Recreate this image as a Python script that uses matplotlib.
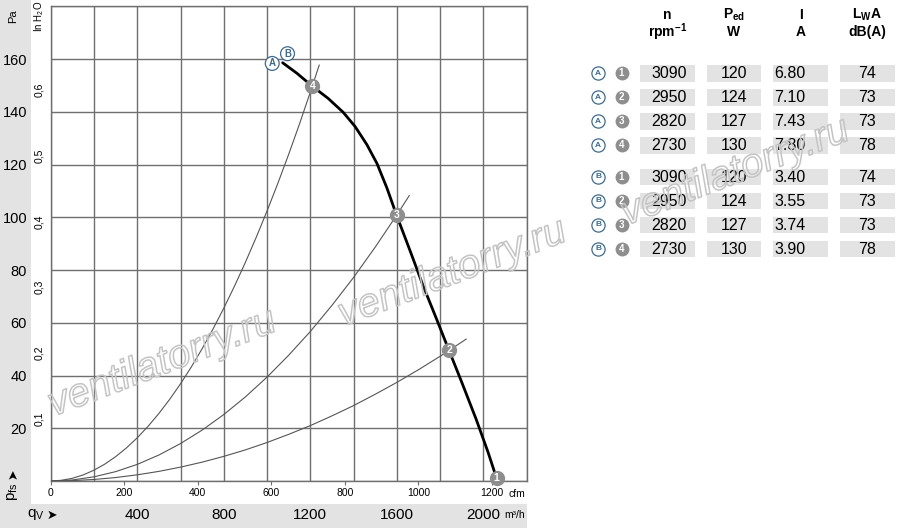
import matplotlib.pyplot as plt
import matplotlib.patheffects as pe
from matplotlib.patches import Rectangle
from matplotlib.transforms import blended_transform_factory

plt.rcParams['font.family'] = ['Liberation Sans Narrow', 'Liberation Sans', 'DejaVu Sans']
plt.rcParams['mathtext.default'] = 'regular'

# fan curve A/B, q in m3/h, p in Pa
fan_q = [1072, 1138, 1209, 1282, 1352, 1407, 1461, 1508, 1554, 1599, 1661, 1721, 1781, 1841, 1901, 1966, 2021, 2061]
fan_p = [158.6, 154.6, 149.7, 145.1, 139.8, 134.4, 127.6, 120.4, 111.1, 100.7, 87.3, 74.1, 61.9, 49.5, 37.2, 23.5, 11.0, 1.0]

# system curves (thin lines through the operating points)
sys4_q = [0, 50, 100, 150, 200, 250, 300, 350, 400, 450, 500, 550, 600, 650, 700, 750, 800,
          850, 900, 950, 1000, 1050, 1100, 1150, 1200, 1241]
sys4_p = [0, 0.26, 1.02, 2.3, 4.1, 6.4, 9.22, 12.54, 16.38, 20.74, 25.6, 30.98, 36.86, 43.26, 50.18,
          57.6, 65.54, 73.98, 82.94, 92.42, 102.4, 112.9, 123.9, 135.4, 147.5, 157.7]
sys3_q = [0, 100, 200, 300, 400, 500, 600, 700, 800, 900, 1000, 1100, 1200, 1300, 1400, 1500, 1600, 1657]
sys3_p = [0, 0.39, 1.58, 3.55, 6.3, 9.85, 14.2, 19.3, 25.2, 31.9, 39.4, 47.7, 56.7, 66.6, 77.2, 88.7, 100.9, 108.2]
sys2_q = [0, 100, 200, 300, 400, 500, 600, 700, 800, 900, 1000, 1100, 1200, 1300, 1400, 1500, 1600, 1700, 1800, 1900, 1920]
sys2_p = [0, 0.15, 0.58, 1.31, 2.34, 3.65, 5.26, 7.15, 9.34, 11.8, 14.6, 17.7, 21.0, 24.7, 28.6, 32.9, 37.4, 42.2, 47.3, 52.7, 53.8]

# operating points 1..4
op_q = [2061, 1841, 1599, 1209]
op_p = [1.0, 49.5, 100.7, 149.7]
op_lbl = ['1', '2', '3', '4']

cfm_ticks = [0, 200, 400, 600, 800, 1000, 1200]
m3h_labels = [400, 800, 1200, 1600, 2000]
pa_labels = [20, 40, 60, 80, 100, 120, 140, 160]
inh2o_ticks = [0.1, 0.2, 0.3, 0.4, 0.5, 0.6]

# table on the right
tbl_motor = ['A', 'A', 'A', 'A', 'B', 'B', 'B', 'B']
tbl_point = ['1', '2', '3', '4', '1', '2', '3', '4']
tbl_n = ['3090', '2950', '2820', '2730', '3090', '2950', '2820', '2730']
tbl_pw = ['120', '124', '127', '130', '120', '124', '127', '130']
tbl_i = ['6.80', '7.10', '7.43', '7.80', '3.40', '3.55', '3.74', '3.90']
tbl_lwa = ['74', '73', '73', '78', '74', '73', '73', '78']

GRID = '#6f6f6f'
MARK = '#8e8e8e'
BLUE = '#3f6b8c'
PANEL = '#e3e3e3'

fig = plt.figure(figsize=(9, 5.32), dpi=100)

# background layer in pixel coords
bg = fig.add_axes([0, 0, 1, 1], zorder=-1)
bg.set_xlim(0, 900)
bg.set_ylim(532, 0)
bg.axis('off')
bg.add_patch(Rectangle((0, 0), 31, 503.5, color=PANEL, lw=0))
bg.add_patch(Rectangle((0, 503.5), 526.7, 24, color=PANEL, lw=0))

ax = fig.add_axes([50.7 / 900, 51 / 532, 476 / 900, 474.7 / 532])
ax.set_xlim(0, 2200)
ax.set_ylim(0, 180)
ax.set_xticks(range(0, 2201, 200))
ax.set_yticks(range(0, 181, 20))
ax.set_yticklabels([''] + [str(v) for v in pa_labels] + [''])
ax.grid(True, color=GRID, lw=1)
ax.set_axisbelow(True)
ax.tick_params(axis='x', length=0, labelbottom=False)
ax.tick_params(axis='y', length=0, pad=17, labelsize=10.5)
for s in ax.spines.values():
    s.set_color(GRID)
    s.set_linewidth(1)

# cfm scale under the plot
sec = ax.secondary_xaxis('bottom', functions=(lambda q: q / 1.699, lambda c: c * 1.699))
sec.set_xticks(cfm_ticks)
sec.tick_params(length=3, color=GRID, labelsize=7.5, pad=2)
sec.spines['bottom'].set_visible(False)

# in H2O scale
sec_y = ax.secondary_yaxis('left', functions=(lambda p: p / 249.09, lambda h: h * 249.09))
sec_y.set_yticks(inh2o_ticks, labels=[f'{v:.1f}'.replace('.', ',') for v in inh2o_ticks])
sec_y.tick_params(length=0, pad=5, labelsize=7.5, labelrotation=90)
sec_y.spines['left'].set_visible(False)

# curves
for q, p in [(sys4_q, sys4_p), (sys3_q, sys3_p), (sys2_q, sys2_p)]:
    ax.plot(q, p, color='#555555', lw=0.8, zorder=3)
ax.plot(fan_q, fan_p, color='black', lw=2, solid_capstyle='round', solid_joinstyle='round', zorder=4)

for q, p, t in zip(op_q, op_p, op_lbl):
    ax.plot(q, p, 'o', ms=11, color=MARK, mec='none', zorder=5, clip_on=False)
    ax.text(q, p, t, ha='center', va='center', color='white', fontsize=7.5,
            fontweight='bold', zorder=6)

# A / B labels at the start of the curve
for t, dx, dy in [('A', -7.5, -0.5), ('B', 3.5, 6.5)]:
    ax.annotate(t, (fan_q[0], fan_p[0]), xytext=(dx, dy), textcoords='offset points',
                ha='center', va='center', fontsize=7, color=BLUE, fontweight='bold',
                bbox=dict(boxstyle='circle,pad=0.2', fc='white', ec=BLUE, lw=0.9), zorder=6)

# axis unit texts
bg.text(13, 16, 'Pa', rotation=90, ha='center', va='center', fontsize=8)
bg.text(39, 16, 'In H$_2$O', rotation=90, ha='center', va='center', fontsize=7)
bg.text(517, 494, 'cfm', ha='center', va='center', fontsize=7.5)
bg.text(515, 515, 'm³/h', ha='center', va='center', fontsize=7.5)
bg.text(13, 492, 'p$_{fs}$', rotation=90, ha='center', va='center', fontsize=11)
bg.text(13, 474, '➤', rotation=90, ha='center', va='center', fontsize=9, family='DejaVu Sans')
bg.text(36, 515, 'q$_V$', ha='center', va='center', fontsize=11)
bg.text(52, 515, '➤', ha='center', va='center', fontsize=9, family='DejaVu Sans')

tr = blended_transform_factory(ax.transData, bg.transData)
for v in m3h_labels:
    bg.text(v, 515, str(v), transform=tr, ha='center', va='center', fontsize=11)

# table
box_x = [640, 706.7, 773.3, 840]
box_w = 54.5
row_y = [73.3, 97.3, 121.3, 145.3, 177, 201, 225, 249]
heads = [('n', 'rpm$^{-1}$'), ('P$_{ed}$', 'W'), ('I', 'A'), ('L$_W$A', 'dB(A)')]
for bx, (h1, h2) in zip(box_x, heads):
    cx = bx + box_w / 2
    bg.text(cx, 15, h1, ha='center', va='center', fontsize=10, fontweight='bold')
    bg.text(cx, 32, h2, ha='center', va='center', fontsize=10, fontweight='bold')

for k, y in enumerate(row_y):
    bg.plot(598, y, 'o', ms=9.5, mfc='white', mec=BLUE, mew=0.9)
    bg.text(598, y, tbl_motor[k], ha='center', va='center', fontsize=6, color=BLUE, fontweight='bold')
    bg.plot(621.5, y, 'o', ms=10, color=MARK, mec='none')
    bg.text(621.5, y, tbl_point[k], ha='center', va='center', fontsize=7, color='white', fontweight='bold')
    for bx in box_x:
        bg.add_patch(Rectangle((bx, y - 8.3), box_w, 16.6, color=PANEL, lw=0))
    bg.text(box_x[0] + box_w / 2 + 2, y, tbl_n[k], ha='center', va='center', fontsize=11.5)
    bg.text(box_x[1] + box_w / 2, y, tbl_pw[k], ha='center', va='center', fontsize=11.5)
    bg.text(box_x[2] + 1, y, tbl_i[k], ha='left', va='center', fontsize=11.5)
    bg.text(box_x[3] + box_w / 2, y, tbl_lwa[k], ha='center', va='center', fontsize=11.5)

# watermark (outline letters, see-through)
for cx, cy in [(162, 363), (452, 273), (735, 172)]:
    fig.text(cx / 900, 1 - cy / 532, 'ventilatorry.ru', ha='center', va='center', rotation=21,
             rotation_mode='anchor', fontsize=29, style='italic', color=(1, 1, 1, 0.12), zorder=20,
             path_effects=[pe.Stroke(linewidth=1.1, foreground='#c4c4c4')])

fig.savefig('out.png', dpi=100)
